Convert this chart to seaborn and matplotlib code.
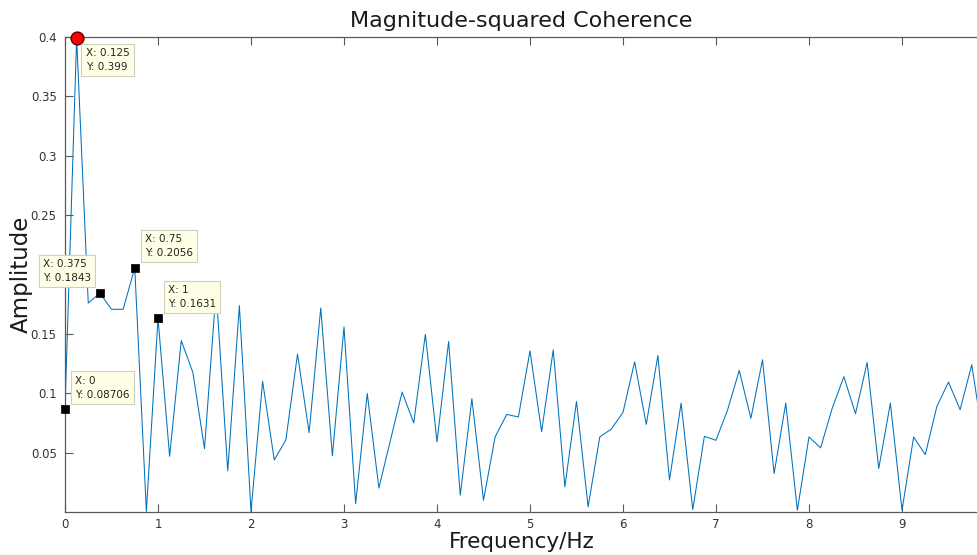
import matplotlib
matplotlib.use("Agg")
import matplotlib.pyplot as plt
import seaborn as sns
import numpy as np
import pandas as pd

# ---- data ----
freq_step = 0.125
amplitude = [
    0.08706, 0.399, 0.176, 0.1843, 0.1707, 0.1707, 0.2056, 0.0005, 0.1631, 0.0469,
    0.1444, 0.1175, 0.0534, 0.187, 0.0346, 0.1738, 0.0005, 0.110, 0.0438, 0.0607,
    0.1329, 0.0668, 0.1718, 0.0473, 0.1558, 0.0070, 0.0998, 0.0202, 0.0607, 0.101,
    0.075, 0.1497, 0.059, 0.1436, 0.0141, 0.0954, 0.0099, 0.0632, 0.0822, 0.080,
    0.1357, 0.0676, 0.1366, 0.0212, 0.0931, 0.0044, 0.0632, 0.0699, 0.0839, 0.1265,
    0.0738, 0.1318, 0.027, 0.0917, 0.002, 0.0637, 0.0604, 0.0861, 0.1192, 0.0789,
    0.1282, 0.0324, 0.0917, 0.0015, 0.0632, 0.054, 0.0875, 0.1139, 0.0828, 0.1259,
    0.0366, 0.0917, 0.0015, 0.0632, 0.0483, 0.0889, 0.1094, 0.0861, 0.124, 0.060,
]
frequency = [i * freq_step for i in range(len(amplitude))]

tip_x = [0.0, 0.375, 0.75, 1.0]
tip_y = [0.08706, 0.1843, 0.2056, 0.1631]
tip_labels = ["X: 0\nY: 0.08706", "X: 0.375\nY: 0.1843", "X: 0.75\nY: 0.2056", "X: 1\nY: 0.1631"]
peak_x = [0.125]
peak_y = [0.399]
peak_label = "X: 0.125\nY: 0.399"

x_ticks = list(range(10))
x_tick_labels = ["0", "1", "2", "3", "4", "5", "6", "7", "8", "9"]
y_ticks = [0.05, 0.1, 0.15, 0.2, 0.25, 0.3, 0.35, 0.4]
# the 0.2 label is hidden behind a data tip in the reference
y_tick_labels = ["0.05", "0.1", "0.15", "", "0.25", "0.3", "0.35", "0.4"]

title_text = "Magnitude-squared Coherence"
xlabel_text = "Frequency/Hz"
ylabel_text = "Amplitude"

# ---- plot ----
sns.set_theme(style="white")
plt.rcParams['font.family'] = ['DejaVu Sans']

df = pd.DataFrame({"Frequency": frequency, "Amplitude": amplitude})

fig = plt.figure(figsize=(9.78, 5.55), dpi=100)
ax = fig.add_axes([65 / 978, 43 / 555, 913 / 978, 475 / 555])

sns.lineplot(data=df, x="Frequency", y="Amplitude", ax=ax, color="#0072BD", linewidth=0.75)

tips_df = pd.DataFrame({"x": tip_x, "y": tip_y})
sns.scatterplot(data=tips_df, x="x", y="y", ax=ax, marker="s", s=40, color="black",
                edgecolor="black", zorder=5, clip_on=False)
peak_df = pd.DataFrame({"x": peak_x, "y": peak_y})
sns.scatterplot(data=peak_df, x="x", y="y", ax=ax, marker="o", s=85, color="#FF0000",
                edgecolor="#5a0000", linewidth=1.0, zorder=6, clip_on=False)

ax.set_xlim(0, 913 / 93)
ax.set_ylim(0, 0.4)
ax.set_xticks(x_ticks)
ax.set_xticklabels(x_tick_labels)
ax.set_yticks(y_ticks)
ax.set_yticklabels(y_tick_labels)

axis_col = "#5a5a5a"
ax.tick_params(axis="both", direction="in", length=6, width=0.8, colors=axis_col,
               labelsize=8.5, labelcolor="#333333", top=True, bottom=True, left=True, right=False)
ax.tick_params(axis="x", pad=4)
ax.tick_params(axis="y", pad=6)
for side in ["left", "bottom", "top"]:
    ax.spines[side].set_visible(True)
    ax.spines[side].set_color(axis_col)
    ax.spines[side].set_linewidth(0.9)
ax.spines["right"].set_visible(False)

ax.set_title(title_text, fontsize=16, color="#1a1a1a", pad=7)
ax.set_xlabel(xlabel_text, fontsize=15.5, color="#1a1a1a")
ax.set_ylabel(ylabel_text, fontsize=16.5, color="#1a1a1a")
ax.xaxis.set_label_coords(0.5, -20 / 475)
ax.yaxis.set_label_coords(-32 / 913, 0.5)

box = dict(boxstyle="square,pad=0.4", fc="#FFFFE6", ec="#CFCFC0", lw=0.8)
tip_fs = 7.5
offsets = {
    0.0: ((10, 9), "left", "bottom"),
    0.375: ((-9, 10), "right", "bottom"),
    0.75: ((10, 10), "left", "bottom"),
    1.0: ((10, 9), "left", "bottom"),
}
for x, y, lab in zip(tip_x, tip_y, tip_labels):
    (dx, dy), ha, va = offsets[x]
    ax.annotate(lab, xy=(x, y), xytext=(dx, dy), textcoords="offset pixels",
                ha=ha, va=va, multialignment="left", fontsize=tip_fs, color="#222222",
                bbox=box, linespacing=1.5, zorder=7, annotation_clip=False)
ax.annotate(peak_label, xy=(peak_x[0], peak_y[0]), xytext=(9, -10), textcoords="offset pixels",
            ha="left", va="top", multialignment="left", fontsize=tip_fs, color="#222222",
            bbox=box, linespacing=1.5, zorder=7, annotation_clip=False)

fig.savefig("out.png", dpi=100)
